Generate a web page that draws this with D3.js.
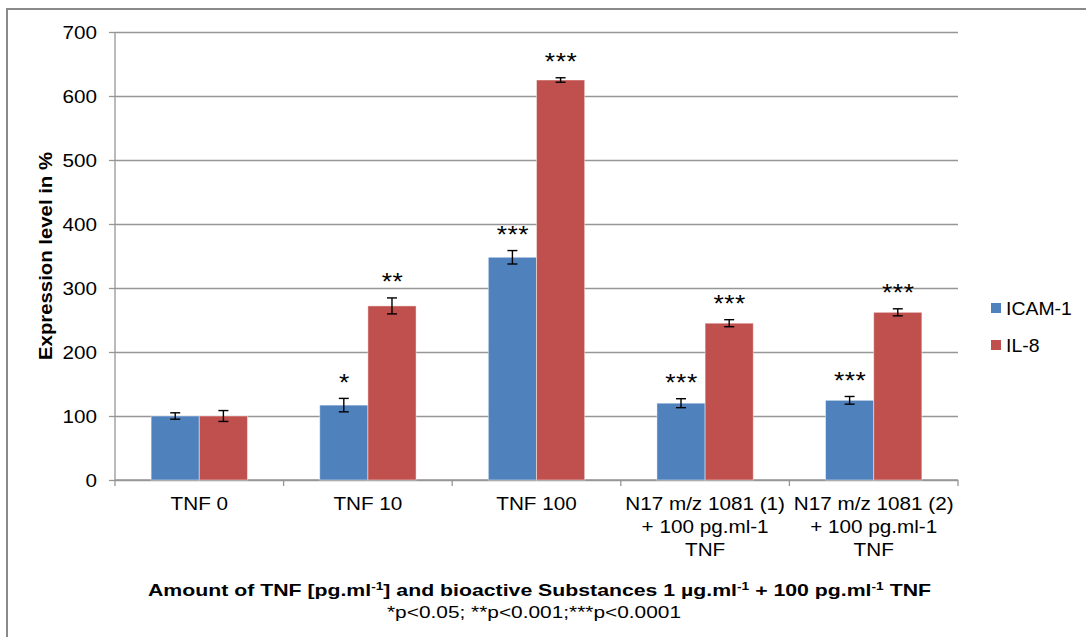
<!DOCTYPE html>
<html>
<head>
<meta charset="utf-8">
<script src="https://cdn.jsdelivr.net/npm/d3@7"></script>
<style>
  html, body { margin: 0; padding: 0; background: #fff; }
  svg { display: block; font-family: "Liberation Sans", Arial, sans-serif; }
</style>
</head>
<body>
<svg id="chart" width="1086" height="637"></svg>
<script>
// Category labels (one entry per line of the axis label)
const categories = [
  ["TNF 0"],
  ["TNF 10"],
  ["TNF 100"],
  ["N17 m/z 1081 (1)", "+ 100 pg.ml-1", "TNF"],
  ["N17 m/z 1081 (2)", "+ 100 pg.ml-1", "TNF"]
];
const seriesNames = ["ICAM-1", "IL-8"];
const icamValues = [100, 117, 348, 120, 124.5];
const icamErrors = [5, 10.5, 10.5, 7, 6];
const il8Values = [100, 272, 625, 245, 262];
const il8Errors = [8.5, 12.5, 3.5, 5.5, 5.5];
const icamSignif = ["", "*", "***", "***", "***"];
const il8Signif = ["", "**", "***", "***", "***"];
const yTicks = [0, 100, 200, 300, 400, 500, 600, 700];

const colors = ["#4F81BD", "#C0504D"];
const series = [
  { name: seriesNames[0], values: icamValues, errors: icamErrors, signif: icamSignif },
  { name: seriesNames[1], values: il8Values, errors: il8Errors, signif: il8Signif }
];

const svg = d3.select("#chart");
const plotL = 115, plotR = 958, plotT = 32, plotB = 480;
const stretch = 1.15; // horizontal stretch of the label glyphs

// outer frame
svg.append("rect")
  .attr("x", 7).attr("y", 9).attr("width", 1100).attr("height", 660)
  .attr("fill", "none").attr("stroke", "#8a8a8a").attr("stroke-width", 2);

const x0 = d3.scaleBand().domain(d3.range(categories.length)).range([plotL, plotR]);
const barW = x0.bandwidth() / 3.5;
const x1 = d3.scaleBand().domain(d3.range(series.length))
  .range([0, barW * series.length]);
const y = d3.scaleLinear().domain([0, 700]).range([plotB, plotT]);

function label(parent, x, yy, text, opts = {}) {
  const g = parent.append("g").attr("transform", `translate(${x},${yy})`);
  const t = g.append("text")
    .attr("transform", `scale(${opts.sx || stretch},1)`)
    .attr("text-anchor", opts.anchor || "middle")
    .attr("font-size", opts.size || 18)
    .attr("fill", "#000")
    .text(text);
  if (opts.spacing) t.attr("letter-spacing", opts.spacing);
  if (opts.weight) t.attr("font-weight", opts.weight);
  return t;
}

// gridlines
const yGrid = d3.axisLeft(y).tickValues(yTicks).tickSize(-(plotR - plotL)).tickFormat("");
const ga = svg.append("g").attr("transform", `translate(${plotL},0)`).call(yGrid);
ga.select(".domain").remove();
ga.selectAll(".tick line").attr("stroke", "#969696").attr("stroke-width", 1.3);

// y axis line and outer ticks
const yAx = svg.append("g").attr("transform", `translate(${plotL},0)`)
  .call(d3.axisLeft(y).tickValues(yTicks).tickSize(6).tickFormat(""));
yAx.select(".domain").attr("stroke", "#969696").attr("stroke-width", 1.3).attr("d", `M0,${plotT}V${plotB}`);
yAx.selectAll(".tick line").attr("stroke", "#969696").attr("stroke-width", 1.3);
yTicks.forEach(v => label(svg, 97, y(v) + 6.5, String(v), { anchor: "end" }));

// x axis line with tick marks at band boundaries
const boundaries = d3.range(categories.length + 1).map(i => plotL + i * x0.step());
svg.append("line").attr("x1", plotL).attr("x2", plotR).attr("y1", plotB).attr("y2", plotB)
  .attr("stroke", "#969696").attr("stroke-width", 1.3);
svg.selectAll(".xtick").data(boundaries).join("line")
  .attr("x1", d => d).attr("x2", d => d).attr("y1", plotB).attr("y2", plotB + 6)
  .attr("stroke", "#969696").attr("stroke-width", 1.3);

// bars
const groups = svg.selectAll(".cat").data(categories).join("g")
  .attr("transform", (d, i) => `translate(${x0(i) + (x0.bandwidth() - barW * 2) / 2},0)`);

series.forEach((s, si) => {
  groups.append("rect")
    .attr("x", x1(si)).attr("width", x1.bandwidth())
    .attr("y", (d, i) => y(s.values[i]))
    .attr("height", (d, i) => plotB - y(s.values[i]))
    .attr("fill", colors[si])
    .attr("stroke", "rgba(255,255,255,0.45)").attr("stroke-width", 1);
});

// error bars and significance marks
series.forEach((s, si) => {
  groups.each(function (d, i) {
    const g = d3.select(this);
    const cx = x1(si) + x1.bandwidth() / 2;
    const hi = y(s.values[i] + s.errors[i]);
    const lo = y(s.values[i] - s.errors[i]);
    g.append("line").attr("x1", cx).attr("x2", cx).attr("y1", hi).attr("y2", lo)
      .attr("stroke", "#000").attr("stroke-width", 1.4);
    [hi, lo].forEach(v => g.append("line").attr("x1", cx - 5).attr("x2", cx + 5)
      .attr("y1", v).attr("y2", v).attr("stroke", "#000").attr("stroke-width", 1.4));
    if (s.signif[i]) {
      label(g, cx + 0.5, hi - 22 + 14.5, s.signif[i], { size: 24, sx: 1.1, spacing: 0.5 });
    }
  });
});

// category labels
categories.forEach((lines, i) => {
  const cx = x0(i) + x0.bandwidth() / 2;
  lines.forEach((ln, k) => label(svg, cx, 509.5 + k * 23, ln));
});

// legend
series.forEach((s, si) => {
  const ly = 308 + si * 37;
  svg.append("rect").attr("x", 991).attr("y", ly - 5).attr("width", 10).attr("height", 10)
    .attr("fill", colors[si]);
  label(svg, 1006, ly + 6.5, s.name, { anchor: "start", sx: 1.08 });
});

// y axis title
svg.append("text")
  .attr("transform", `translate(52,256) rotate(-90)`)
  .attr("text-anchor", "middle")
  .attr("font-size", 19).attr("font-weight", "bold")
  .attr("textLength", 208).attr("lengthAdjust", "spacingAndGlyphs")
  .text("Expression level in %");

// x axis title with superscripts
const xt = svg.append("text")
  .attr("x", 148).attr("y", 596)
  .attr("font-size", 17).attr("font-weight", "bold")
  .attr("textLength", 783).attr("lengthAdjust", "spacingAndGlyphs");
[
  ["Amount of TNF [pg.ml", false], ["-1", true], ["] and bioactive Substances 1 µg.ml", false],
  ["-1", true], ["  + 100 pg.ml", false], ["-1", true], [" TNF", false]
].forEach(([t, sup]) => {
  const ts = xt.append("tspan").text(t);
  if (sup) ts.attr("font-size", 11).attr("baseline-shift", "super");
});

svg.append("text")
  .attr("x", 387).attr("y", 618)
  .attr("font-size", 17)
  .attr("textLength", 294).attr("lengthAdjust", "spacingAndGlyphs")
  .text("*p<0.05; **p<0.001;***p<0.0001");
</script>
</body>
</html>
